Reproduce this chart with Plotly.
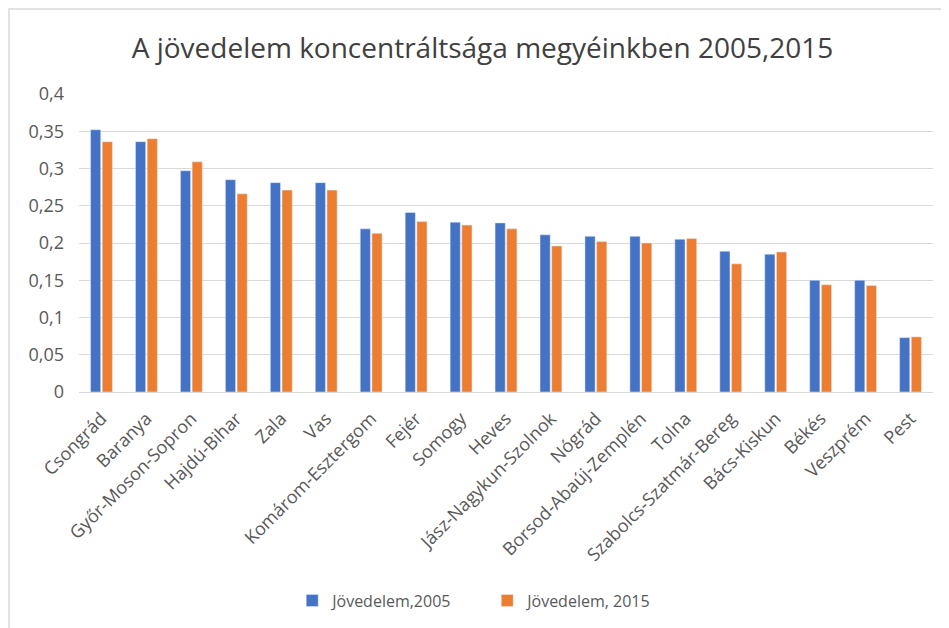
import plotly.graph_objs as go

megyek = ["Csongrád", "Baranya", "Győr-Moson-Sopron", "Hajdú-Bihar", "Zala", "Vas",
          "Komárom-Esztergom", "Fejér", "Somogy", "Heves", "Jász-Nagykun-Szolnok",
          "Nógrád", "Borsod-Abaúj-Zemplén", "Tolna", "Szabolcs-Szatmár-Bereg",
          "Bács-Kiskun", "Békés", "Veszprém", "Pest"]
jov_2005 = [0.352, 0.336, 0.297, 0.285, 0.281, 0.281, 0.219, 0.241, 0.228, 0.227,
            0.211, 0.209, 0.209, 0.205, 0.189, 0.185, 0.150, 0.150, 0.073]
jov_2015 = [0.336, 0.340, 0.309, 0.266, 0.271, 0.271, 0.213, 0.229, 0.224, 0.219,
            0.196, 0.202, 0.200, 0.206, 0.172, 0.188, 0.144, 0.143, 0.074]
y_ticks = [0, 0.05, 0.1, 0.15, 0.2, 0.25, 0.3, 0.35, 0.4]

FONT = "Open Sans"
GRAY = "#595959"

fig = go.Figure()
fig.add_trace(go.Bar(x=megyek, y=jov_2005, name="Jövedelem,2005", marker_color="#4472C4"))
fig.add_trace(go.Bar(x=megyek, y=jov_2015, name="Jövedelem, 2015", marker_color="#ED7D31"))

# page body has an 8px margin, so the margins are pulled in by 8px
fig.update_layout(
    width=949, height=628,
    margin=dict(l=71, r=24, t=86, b=244),
    paper_bgcolor="white", plot_bgcolor="white",
    separators=", ",
    barmode="group", bargap=0.48, bargroupgap=0.13,
    font=dict(family=FONT, color=GRAY, size=16),
    title=dict(text="A jövedelem koncentráltsága megyéinkben 2005,2015",
               x=0.5, xanchor="center", y=0.936, yanchor="middle",
               font=dict(family=FONT, size=28, color="#404040")),
    legend=dict(orientation="h", x=0.478, xanchor="center", y=-0.70, yanchor="middle",
                entrywidth=150, font=dict(size=16, color=GRAY)),
    shapes=[dict(type="rect", xref="paper", yref="paper",
                 x0=-0.082, x1=1.013, y0=-0.85, y1=1.285,
                 line=dict(color="#d9d9d9", width=1.5))],
)
fig.update_yaxes(range=[0, 0.4], tickvals=y_ticks, showgrid=True, gridcolor="#d9d9d9",
                 zeroline=False, showline=False, ticks="", automargin=False,
                 ticklabelstandoff=14, tickfont=dict(size=18))
fig.update_xaxes(tickangle=-45, showline=True, linecolor="#d9d9d9",
                 ticks="outside", ticklen=8, tickcolor="rgba(0,0,0,0)",
                 automargin=False, tickfont=dict(size=18))

fig.write_html("out.html")
